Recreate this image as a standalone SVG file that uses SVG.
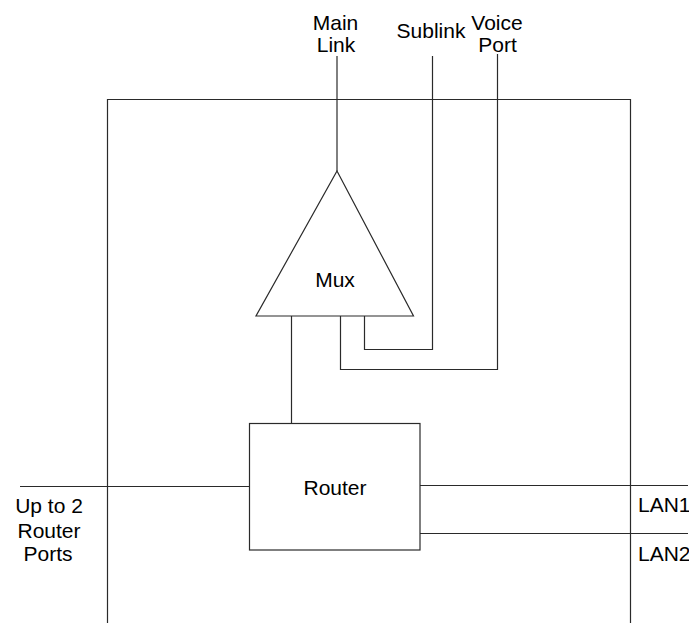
<svg xmlns="http://www.w3.org/2000/svg" width="689" height="623" viewBox="0 0 689 623">
<style>
.ln{fill:none;stroke:#2a2a2a;stroke-width:1.2}
.sh{fill:#fff;stroke:#2a2a2a;stroke-width:1.2}
.t{font-family:"Liberation Sans",Arial,sans-serif;font-size:21px;fill:#000}
.c{text-anchor:middle}
</style>
<rect width="689" height="623" fill="#fff"/>
<g id="frame">
<polyline class="ln" points="107.5,623 107.5,99.5 630.5,99.5 630.5,623"/>
</g>
<g id="connectors">
<line class="ln" x1="337" y1="56" x2="337" y2="171"/>
<polyline class="ln" points="432.5,56 432.5,349.5 364.5,349.5 364.5,316"/>
<polyline class="ln" points="497.5,54 497.5,369.5 340.5,369.5 340.5,316"/>
<line class="ln" x1="291.5" y1="316" x2="291.5" y2="423.5"/>
<line class="ln" x1="20" y1="486.5" x2="250" y2="486.5"/>
<line class="ln" x1="420" y1="485.5" x2="688" y2="485.5"/>
<line class="ln" x1="420" y1="533.5" x2="688" y2="533.5"/>
</g>
<g id="mux">
<polygon class="sh" points="337,171 413.5,316 256,316"/>
<text class="t c" x="335" y="287">Mux</text>
</g>
<g id="router">
<rect class="sh" x="249.5" y="423.5" width="170.5" height="126.5"/>
<text class="t c" x="335" y="495">Router</text>
</g>
<g id="main-link">
<text class="t c" x="335.5" y="30">Main</text>
<text class="t c" x="336" y="52">Link</text>
</g>
<g id="sublink">
<text class="t c" x="431" y="37.5">Sublink</text>
</g>
<g id="voice-port">
<text class="t c" x="497" y="29.5">Voice</text>
<text class="t c" x="497.5" y="52">Port</text>
</g>
<g id="router-ports">
<text class="t c" x="49" y="513">Up to 2</text>
<text class="t c" x="49" y="537.5">Router</text>
<text class="t c" x="48" y="561">Ports</text>
</g>
<g id="lan">
<text class="t" x="638" y="512">LAN1</text>
<text class="t" x="638" y="560.5">LAN2</text>
</g>
</svg>
